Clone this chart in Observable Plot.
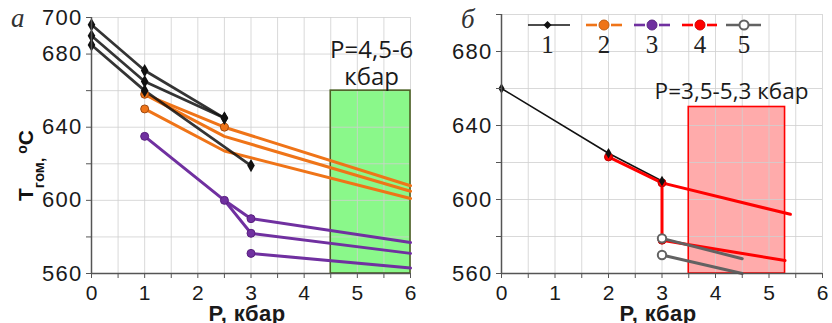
<!DOCTYPE html>
<html>
<head>
<meta charset="utf-8">
<script src="https://cdn.jsdelivr.net/npm/d3@7"></script>
<script src="https://cdn.jsdelivr.net/npm/@observablehq/plot@0.6"></script>
<style>
  body { margin: 0; background: #fff; }
  #wrap { display: flex; width: 832px; height: 323px; }
  g[aria-label="y-axis tick label"] { font-size: 22px; letter-spacing: 1.3px; font-family: 'Liberation Sans', Arial, sans-serif; }
  g[aria-label="x-axis tick label"] { font-size: 21px; font-family: 'Liberation Sans', Arial, sans-serif; }
</style>
</head>
<body>
<div id="wrap"></div>
<script>
// ---------- DATA ----------
// Panel "а": each line is a list of [P (kbar), T (°C)]
const aSeries1 = [
  [[0, 696], [1, 671], [2.5, 645]],
  [[0, 690], [1, 665], [2.5, 645]],
  [[0, 685], [1, 660], [3, 619]]
];
const aSeries2 = [
  [[1, 658], [2.5, 640], [6, 608]],
  [[1, 658], [2.5, 635], [6, 605]],
  [[1, 650], [2.5, 627], [6, 601]]
];
const aSeries2Markers = [[1, 658], [1, 650], [2.5, 640]];
const aSeries3 = [
  [[1, 635], [2.5, 600], [3, 590], [6, 577]],
  [[2.5, 600], [3, 582], [6, 571]],
  [[3, 571], [6, 563]]
];
const aSeries3Markers = [[1, 635], [2.5, 600], [3, 590], [3, 582], [3, 571]];
const aBoxP = [4.5, 6];
const aBoxT = [560, 660];
const aBoxLabel = [{text: "P=4,5-6", P: 5.27, T: 682}, {text: "кбар", P: 5.27, T: 667.5}];

// Panel "б"
const bSeries1 = [
  [[0, 660], [2, 625], [3, 610]]
];
const bSeries4 = [
  [[2, 623], [3, 609], [5.4, 592]],
  [[3, 609], [3, 578], [5.3, 567]]
];
const bSeries4Markers = [[2, 623], [3, 609], [3, 578]];
const bSeries5 = [
  [[3, 579], [4.5, 568]],
  [[3, 570], [4.5, 560]]
];
const bSeries5Markers = [[3, 579], [3, 570]];
const bBoxP = [3.5, 5.3];
const bBoxT = [560, 650];
const bBoxLabel = [{text: "P=3,5-5,3 кбар", P: 4.3, T: 658}];

// Axes / ticks
const xDomain = [0, 6];
const yDomain = [560, 700];
const xTicks = d3.range(0, 6.01, 0.5);
const xTickLabels = [0, 1, 2, 3, 4, 5, 6];
const yTicks = d3.range(560, 701, 20);
const aYTickLabels = [700, 680, 640, 600, 560];
const bYTickLabels = [680, 640, 600, 560];
const legendLabels = ["1", "2", "3", "4", "5"];
const xTitle = "P, кбар";

// ---------- STYLE ----------
const C1 = "#111111", C2 = "#ef7418", C3 = "#7030a0", C4 = "#ff0000", C5 = "#626262";
const sans = "'Liberation Sans', Arial, sans-serif";
const annoFont = "'Open Sans', sans-serif";
const serif = "'Liberation Serif', 'Times New Roman', serif";

const flat = lines => lines.flatMap((pts, i) => pts.map(([P, T]) => ({P, T, id: i})));
const pts = arr => arr.map(([P, T]) => ({P, T}));

function baseMarks(box, boxFill, boxStroke) {
  return [
    Plot.rect([box], {x1: d => d.P[0], x2: d => d.P[1], y1: d => d.T[0], y2: d => d.T[1],
      fill: boxFill.color, fillOpacity: boxFill.opacity}),
    Plot.gridX(xTicks, {stroke: "#cfcfcf", strokeOpacity: 0.8, strokeWidth: 1}),
    Plot.gridY(yTicks, {stroke: "#cfcfcf", strokeOpacity: 0.8, strokeWidth: 1}),
    Plot.rect([box], {x1: d => d.P[0], x2: d => d.P[1], y1: d => d.T[0], y2: d => d.T[1],
      fill: "none", stroke: boxStroke, strokeWidth: 1.6})
  ];
}
function axisMarks(yLabels) {
  return [
    Plot.ruleX([0], {stroke: "#555", strokeWidth: 1.5}),
    Plot.ruleY([560], {stroke: "#555", strokeWidth: 1.5}),
    Plot.axisX(xTicks, {tickSize: 5, tickPadding: 7, stroke: "#555",
      tickFormat: d => xTickLabels.includes(d) ? String(d) : "",
      fill: "#1a1a1a", label: null}),
    Plot.axisY(yTicks, {tickSize: 5, tickPadding: 4, stroke: "#555",
      tickFormat: d => yLabels.includes(d) ? String(d) : "",
      fill: "#1a1a1a", label: null})
  ];
}

// ---------- PANEL А ----------
const plotA = Plot.plot({
  width: 420, height: 323,
  marginLeft: 91, marginRight: 10, marginTop: 17, marginBottom: 50,
  x: {domain: xDomain}, y: {domain: yDomain},
  marks: [
    ...baseMarks({P: aBoxP, T: aBoxT}, {color: "#00f000", opacity: 0.46}, "#4b6023"),
    Plot.line(flat(aSeries2), {x: "P", y: "T", z: "id", stroke: C2, strokeWidth: 3, strokeLinejoin: "round"}),
    Plot.line(flat(aSeries3), {x: "P", y: "T", z: "id", stroke: C3, strokeWidth: 3, strokeLinejoin: "round"}),
    Plot.line(flat(aSeries1), {x: "P", y: "T", z: "id", stroke: C1, strokeOpacity: 0.85, strokeWidth: 2.7, strokeLinejoin: "round"}),
    Plot.dot(pts(aSeries2Markers), {x: "P", y: "T", r: 4, fill: C2, stroke: "#a04a10", strokeWidth: 1}),
    Plot.dot(pts(aSeries3Markers), {x: "P", y: "T", r: 4, fill: C3, stroke: "#5a2080", strokeWidth: 1}),
    Plot.dot(flat(aSeries1), {x: "P", y: "T", r: 4, symbol: "diamond", fill: C1}),
    Plot.text(aBoxLabel, {x: "P", y: "T", text: "text", fontSize: 24, fontFamily: annoFont, fill: "#1a1a1a", textAnchor: "middle"}),
    ...axisMarks(aYTickLabels)
  ]
});

// ---------- PANEL Б ----------
const plotB = Plot.plot({
  width: 412, height: 323,
  marginLeft: 81, marginRight: 10, marginTop: 14, marginBottom: 50,
  x: {domain: xDomain}, y: {domain: yDomain},
  marks: [
    ...baseMarks({P: bBoxP, T: bBoxT}, {color: "#ff0000", opacity: 0.33}, "#ff0000"),
    Plot.line(flat(bSeries1), {x: "P", y: "T", z: "id", stroke: C1, strokeWidth: 1.6, strokeLinejoin: "round"}),
    Plot.line(flat(bSeries4), {x: "P", y: "T", z: "id", stroke: C4, strokeWidth: 3, strokeLinejoin: "round"}),
    Plot.dot(pts(bSeries4Markers), {x: "P", y: "T", r: 4, fill: C4, stroke: "#c00000", strokeWidth: 1}),
    Plot.line(flat(bSeries5), {x: "P", y: "T", z: "id", stroke: C5, strokeWidth: 3}),
    Plot.dot(pts(bSeries5Markers), {x: "P", y: "T", r: 4.2, fill: "#fff", stroke: C5, strokeWidth: 2}),
    Plot.dot(flat(bSeries1), {x: "P", y: "T", r: 3.2, symbol: "diamond", fill: C1}),
    Plot.text(bBoxLabel, {x: "P", y: "T", text: "text", fontSize: 22.5, fontFamily: annoFont, fill: "#1a1a1a", textAnchor: "middle"}),
    ...axisMarks(bYTickLabels)
  ]
});

const wrap = document.getElementById("wrap");
wrap.appendChild(plotA);
wrap.appendChild(plotB);

// ---------- extra labels ----------
function xTitleText(svg, cx) {
  d3.select(svg).append("text").attr("x", cx).attr("y", 321)
    .attr("text-anchor", "middle").attr("font-family", sans).attr("font-weight", "bold")
    .attr("font-size", 22).attr("letter-spacing", "0.4px").attr("fill", "#1a1a1a").text(xTitle);
}
xTitleText(plotA, 247);
xTitleText(plotB, 238);

// panel letters
d3.select(plotA).append("text").attr("x", 11).attr("y", 27).attr("text-anchor", "start").attr("font-family", serif)
  .attr("font-style", "italic").attr("font-size", 27).attr("fill", "#333").text("а");
d3.select(plotB).append("text").attr("x", 41).attr("y", 28).attr("text-anchor", "start").attr("font-family", serif)
  .attr("font-style", "italic").attr("font-size", 27).attr("fill", "#333").text("б");

// y-axis title for panel а
{
  const t = d3.select(plotA).append("text")
    .attr("transform", "translate(33,201) rotate(-90)")
    .attr("text-anchor", "start")
    .attr("font-family", sans).attr("font-weight", "bold").attr("font-size", 21).attr("fill", "#111");
  t.append("tspan").text("T");
  t.append("tspan").attr("font-size", 15).attr("dy", 11).text("гом, ");
  t.append("tspan").attr("font-size", 14).attr("dy", -17).text("o");
  t.append("tspan").attr("font-size", 21).attr("dy", 6).text("C");
}

// legend for panel б
{
  const svg = d3.select(plotB);
  const items = [
    {x0: 108, x1: 150, m: 127.5, color: C1, kind: "diamond", gap: false},
    {x0: 166, x1: 202, m: 184, color: C2, kind: "dot", gap: true},
    {x0: 214, x1: 250, m: 232, color: C3, kind: "dot", gap: true},
    {x0: 262, x1: 297, m: 280, color: C4, kind: "dot", gap: true},
    {x0: 306, x1: 341, m: 324, color: C5, kind: "open", gap: false}
  ];
  const y = 25;
  items.forEach((it, i) => {
    const g = svg.append("g");
    const w = it.kind === "diamond" ? 1.6 : 2.6;
    if (it.gap) {
      g.append("line").attr("x1", it.x0).attr("x2", it.m - 7).attr("y1", y).attr("y2", y).attr("stroke", it.color).attr("stroke-width", w);
      g.append("line").attr("x1", it.m + 7).attr("x2", it.x1).attr("y1", y).attr("y2", y).attr("stroke", it.color).attr("stroke-width", w);
    } else {
      g.append("line").attr("x1", it.x0).attr("x2", it.x1).attr("y1", y).attr("y2", y).attr("stroke", it.color).attr("stroke-width", w);
    }
    if (it.kind === "diamond") {
      g.append("path").attr("d", `M${it.m},${y - 4}L${it.m + 4},${y}L${it.m},${y + 4}L${it.m - 4},${y}Z`).attr("fill", it.color);
    } else if (it.kind === "dot") {
      g.append("circle").attr("cx", it.m).attr("cy", y).attr("r", 5).attr("fill", it.color).attr("stroke", d3.color(it.color).darker(0.6)).attr("stroke-width", 1);
    } else {
      g.append("circle").attr("cx", it.m).attr("cy", y).attr("r", 4.5).attr("fill", "#fff").attr("stroke", it.color).attr("stroke-width", 2);
    }
    g.append("text").attr("x", it.m).attr("y", 53).attr("text-anchor", "middle")
      .attr("font-family", serif).attr("font-size", 25).attr("fill", "#222").text(legendLabels[i]);
  });
}
</script>
</body>
</html>
